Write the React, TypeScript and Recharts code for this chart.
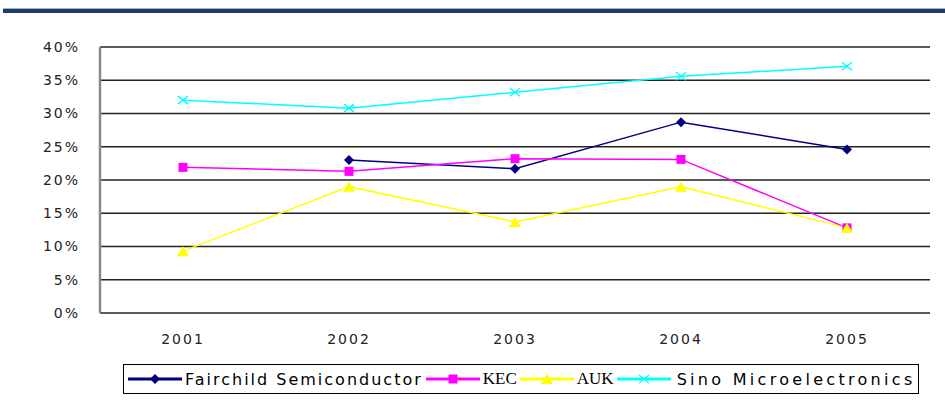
import React from 'react';
import { LineChart, Line, XAxis, YAxis, CartesianGrid, Legend } from 'recharts';

const years = [2001, 2002, 2003, 2004, 2005];
const fairchild = [null, 23.0, 21.7, 28.7, 24.6];
const kec = [21.9, 21.3, 23.2, 23.1, 12.8];
const auk = [9.3, 19.0, 13.7, 19.0, 12.8];
const sino = [32.0, 30.8, 33.2, 35.6, 37.1];
const yTicks = [0, 5, 10, 15, 20, 25, 30, 35, 40];
const edgeTicks = [2000.5, 2001.5, 2002.5, 2003.5, 2004.5, 2005.5];

const data = years.map((year, i) => ({
  year,
  fairchild: fairchild[i],
  kec: kec[i],
  auk: auk[i],
  sino: sino[i],
}));

const series = [
  { key: 'fairchild', name: 'Fairchild Semiconductor', color: '#000080', shape: 'diamond' },
  { key: 'kec', name: 'KEC', color: '#ff00ff', shape: 'square' },
  { key: 'auk', name: 'AUK', color: '#ffff00', shape: 'triangle' },
  { key: 'sino', name: 'Sino Microelectronics', color: '#00ffff', shape: 'cross' },
];

const Marker = ({ shape, color, cx, cy }: { shape: string; color: string; cx: number; cy: number }) => {
  if (cx == null || cy == null) return null;
  if (shape === 'diamond')
    return <polygon points={`${cx},${cy - 5} ${cx + 5},${cy} ${cx},${cy + 5} ${cx - 5},${cy}`} fill={color} />;
  if (shape === 'square') return <rect x={cx - 4.5} y={cy - 4.5} width={9} height={9} fill={color} />;
  if (shape === 'triangle')
    return <polygon points={`${cx},${cy - 5} ${cx + 6},${cy + 5} ${cx - 6},${cy + 5}`} fill={color} />;
  return (
    <g stroke={color} strokeWidth={1.5}>
      <line x1={cx - 5} y1={cy - 4} x2={cx + 5} y2={cy + 4} />
      <line x1={cx - 5} y1={cy + 4} x2={cx + 5} y2={cy - 4} />
    </g>
  );
};

// KEC and AUK are drawn narrower in the original legend
const legendFont = (key: string) => {
  if (key === 'kec' || key === 'auk') return { fontFamily: 'Liberation Serif', fontSize: 17, letterSpacing: 0 };
  if (key === 'sino') return { fontFamily: 'DejaVu Sans', fontSize: 16, letterSpacing: 3.3, marginLeft: 3 };
  return { fontFamily: 'DejaVu Sans', fontSize: 16, letterSpacing: 2 };
};

const LegendBox = () => (
  <div
    style={{
      border: '1px solid #000',
      height: 30,
      display: 'flex',
      alignItems: 'center',
      paddingLeft: 4,
      color: '#000',
      boxSizing: 'border-box',
      whiteSpace: 'nowrap',
    }}
  >
    {series.map((s) => (
      <div key={s.key} style={{ display: 'flex', alignItems: 'center', marginRight: 3 }}>
        <svg width={54} height={12} style={{ marginRight: 3 }}>
          <line x1={0} y1={6} x2={54} y2={6} stroke={s.color} strokeWidth={3} />
          <Marker shape={s.shape} color={s.color} cx={27} cy={6} />
        </svg>
        <span style={legendFont(s.key)}>{s.name}</span>
      </div>
    ))}
  </div>
);

const tickFont = { fontFamily: 'DejaVu Sans', fontSize: 14, fill: '#222', letterSpacing: 2 };

export default function App() {
  return (
    <div style={{ position: 'absolute', left: 0, top: 0, width: 945, height: 403, background: '#fff' }}>
      <div style={{ position: 'absolute', left: 3, top: 8, width: 942, height: 4, background: '#1f3b6e', borderTop: '1px solid #9fb3cf' }} />
      <LineChart width={945} height={403} data={data} margin={{ top: 47, right: 15, left: 0, bottom: 20 }}>
        <CartesianGrid vertical={false} stroke="#222" strokeWidth={1.5} />
        <XAxis
          xAxisId="edges"
          dataKey="year"
          type="number"
          domain={[2000.5, 2005.5]}
          ticks={edgeTicks}
          tickFormatter={() => ''}
          tickSize={5}
          height={0}
          axisLine={{ stroke: '#222', strokeWidth: 1.5 }}
          tickLine={{ stroke: '#222' }}
        />
        <XAxis
          dataKey="year"
          type="number"
          domain={[2000.5, 2005.5]}
          ticks={years}
          tickSize={0}
          tickMargin={21}
          height={40}
          axisLine={false}
          tickLine={false}
          tick={tickFont}
        />
        <YAxis
          domain={[0, 40]}
          ticks={yTicks}
          tickFormatter={(v) => `${v}%`}
          width={100}
          tickSize={0}
          tickMargin={20}
          tickLine={false}
          axisLine={{ stroke: '#888', strokeWidth: 2.5 }}
          tick={tickFont}
        />
        {series.map((s) => (
          <Line
            key={s.key}
            dataKey={s.key}
            name={s.name}
            stroke={s.color}
            strokeWidth={1.5}
            isAnimationActive={false}
            dot={(p: any) => <Marker key={`${s.key}-${p.index}`} shape={s.shape} color={s.color} cx={p.cx} cy={p.cy} />}
            activeDot={false}
          />
        ))}
        <Legend content={() => <LegendBox />} wrapperStyle={{ top: 364, left: 123, width: 796 }} />
      </LineChart>
    </div>
  );
}
